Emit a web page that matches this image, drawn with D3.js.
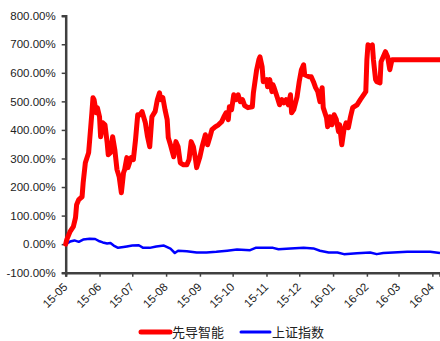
<!DOCTYPE html>
<html>
<head>
<meta charset="utf-8">
<script src="https://cdn.jsdelivr.net/npm/d3@7"></script>
<style>
  body { margin: 0; background: #fff; }
  svg { display: block; }
</style>
</head>
<body>
<div id="chart"></div>
<script>
// 先导智能 vs 上证指数, cumulative return (%)
var xianDates = ["2015-05-01","2015-05-02","2015-05-05","2015-05-08","2015-05-10","2015-05-11","2015-05-13","2015-05-16","2015-05-17","2015-05-19",
  "2015-05-22","2015-05-23","2015-05-25","2015-05-26","2015-05-27","2015-05-29","2015-05-30","2015-06-01","2015-06-02","2015-06-04",
  "2015-06-06","2015-06-08","2015-06-09","2015-06-11","2015-06-13","2015-06-15","2015-06-17","2015-06-19","2015-06-21","2015-06-23",
  "2015-06-24","2015-06-26","2015-06-27","2015-06-30","2015-07-02","2015-07-04","2015-07-06","2015-07-08","2015-07-10","2015-07-13",
  "2015-07-15","2015-07-17","2015-07-19","2015-07-22","2015-07-24","2015-07-26","2015-07-27","2015-07-29","2015-07-31","2015-08-02",
  "2015-08-03","2015-08-05","2015-08-08","2015-08-10","2015-08-12","2015-08-14","2015-08-17","2015-08-20","2015-08-22","2015-08-24",
  "2015-08-26","2015-08-28","2015-08-29","2015-09-01","2015-09-03","2015-09-06","2015-09-08","2015-09-10","2015-09-12","2015-09-15",
  "2015-09-18","2015-09-21","2015-09-23","2015-09-25","2015-09-27","2015-09-28","2015-09-30","2015-10-02","2015-10-04","2015-10-06",
  "2015-10-08","2015-10-10","2015-10-12","2015-10-15","2015-10-19","2015-10-20","2015-10-23","2015-10-25","2015-10-26","2015-10-28",
  "2015-10-29","2015-11-01","2015-11-02","2015-11-04","2015-11-06","2015-11-07","2015-11-08","2015-11-11","2015-11-13","2015-11-15",
  "2015-11-17","2015-11-19","2015-11-21","2015-11-23","2015-11-24","2015-11-26","2015-11-29","2015-12-01","2015-12-03","2015-12-05",
  "2015-12-06","2015-12-10","2015-12-12","2015-12-14","2015-12-16","2015-12-18","2015-12-20","2015-12-22","2015-12-23","2015-12-26",
  "2015-12-27","2015-12-29","2015-12-31","2016-01-02","2016-01-04","2016-01-06","2016-01-07","2016-01-09","2016-01-11","2016-01-13",
  "2016-01-15","2016-01-17","2016-01-19","2016-01-23","2016-01-26","2016-01-29","2016-01-31","2016-02-01","2016-02-02","2016-02-03",
  "2016-02-06","2016-02-07","2016-02-09","2016-02-10","2016-02-13","2016-02-14","2016-02-16","2016-02-18","2016-02-20","2016-02-22",
  "2016-02-24","2016-04-08"];
var xianValues = [0,16,44,61,93,138,156,166,215,285,
  320,366,460,513,506,460,478,446,376,425,
  418,355,313,320,376,331,261,236,180,250,
  261,303,268,303,296,366,453,453,464,425,
  376,341,446,465,506,530,506,513,471,436,
  373,348,306,359,341,285,278,278,296,359,
  341,296,268,306,341,383,348,373,401,411,
  418,429,446,460,436,481,471,523,506,523,
  499,506,485,478,481,530,611,646,656,621,
  569,576,551,576,534,558,548,513,488,506,
  495,506,488,523,460,471,516,569,611,628,
  593,586,586,569,548,534,499,548,478,443,
  411,446,418,453,436,394,418,348,401,425,
  408,446,478,488,506,523,534,646,698,688,
  698,646,576,569,565,639,656,674,656,611,
  646,646];

var shDates = ["2015-05-01","2015-05-05","2015-05-09","2015-05-13","2015-05-17","2015-05-23","2015-05-28","2015-06-01","2015-06-04","2015-06-08",
  "2015-06-11","2015-06-14","2015-06-18","2015-06-23","2015-06-26","2015-07-01","2015-07-07","2015-07-11","2015-07-17","2015-07-23",
  "2015-07-30","2015-08-05","2015-08-09","2015-08-12","2015-08-20","2015-08-29","2015-09-07","2015-09-16","2015-09-26","2015-10-05",
  "2015-10-17","2015-10-22","2015-11-07","2015-11-12","2015-11-23","2015-12-05","2015-12-14","2015-12-20","2015-12-28","2016-01-05",
  "2016-01-11","2016-01-23","2016-02-04","2016-02-10","2016-02-16","2016-02-25","2016-03-09","2016-03-21","2016-03-30","2016-04-08"];
var shValues = [0,9,13,8,16,19,18,10,6,2,
  4,-5,-13,-10,-8,-5,-4,-13,-13,-8,
  -5,-16,-31,-23,-25,-29,-29,-27,-23,-19,
  -21,-13,-13,-18,-15,-13,-15,-23,-29,-29,
  -35,-32,-29,-35,-31,-29,-27,-27,-27,-31];

var yTicks = [-100,0,100,200,300,400,500,600,700,800];
var xTicks = ["2015-05-01","2015-06-01","2015-07-01","2015-08-01","2015-09-01","2015-10-01",
  "2015-11-01","2015-12-01","2016-01-01","2016-02-01","2016-03-01","2016-04-01"];
var seriesNames = ["先导智能","上证指数"];
var seriesColors = ["#ff0000","#0000ff"];

var W = 440, H = 341;
var margin = {top: 15.7, right: 0, bottom: 68.3, left: 65.7};
var parse = d3.timeParse("%Y-%m-%d");

var svg = d3.select("#chart").append("svg")
    .attr("width", W)
    .attr("height", H);

var x = d3.scaleTime()
    .domain([parse("2015-05-01"), parse("2016-04-08")])
    .range([margin.left, W - margin.right]);

var y = d3.scaleLinear()
    .domain([-100, 800])
    .range([H - margin.bottom, margin.top]);

var font = "'Liberation Sans', Arial, sans-serif";

// y axis
var yAxis = svg.append("g")
    .attr("transform", "translate(" + margin.left + ",0)")
    .call(d3.axisLeft(y).tickValues(yTicks).tickSize(4).tickPadding(6)
      .tickFormat(function(d) { return d.toFixed(2) + "%"; }));
yAxis.select(".domain").attr("stroke", "#404040").attr("stroke-width", 2.5);
yAxis.selectAll(".tick line").attr("stroke", "#404040").attr("stroke-width", 1.5);
yAxis.selectAll("text").attr("font-family", font).attr("font-size", "11.5px").attr("fill", "#222");

// x axis
var xAxis = svg.append("g")
    .attr("transform", "translate(0," + (H - margin.bottom) + ")")
    .call(d3.axisBottom(x).tickValues(xTicks.map(parse)).tickSize(4)
      .tickFormat(d3.timeFormat("%y-%m")));
xAxis.select(".domain").attr("stroke", "#404040").attr("stroke-width", 2.5);
xAxis.selectAll(".tick line").attr("stroke", "#404040").attr("stroke-width", 1.5);
xAxis.selectAll("text")
    .attr("font-family", font)
    .attr("font-size", "11.5px")
    .attr("fill", "#222")
    .attr("text-anchor", "end")
    .attr("dy", null)
    .attr("y", 0)
    .attr("transform", "translate(2,15) rotate(-45)");

var line = d3.line()
    .x(function(d) { return x(d[0]); })
    .y(function(d) { return y(d[1]); });

var shData = shDates.map(function(d, i) { return [parse(d), shValues[i]]; });
var xianData = xianDates.map(function(d, i) { return [parse(d), xianValues[i]]; });

svg.append("path")
    .datum(shData)
    .attr("fill", "none")
    .attr("stroke", seriesColors[1])
    .attr("stroke-width", 2.5)
    .attr("stroke-linejoin", "round")
    .attr("d", line);

svg.append("path")
    .datum(xianData)
    .attr("fill", "none")
    .attr("stroke", seriesColors[0])
    .attr("stroke-width", 5)
    .attr("stroke-linejoin", "round")
    .attr("stroke-linecap", "round")
    .attr("d", line);

// legend
var legendX = [141, 241];
seriesNames.forEach(function(name, i) {
  var g = svg.append("g").attr("transform", "translate(" + legendX[i] + ",332)");
  g.append("line")
      .attr("x1", 0).attr("x2", 29)
      .attr("stroke", seriesColors[i])
      .attr("stroke-width", i === 0 ? 5 : 3)
      .attr("stroke-linecap", "round");
  g.append("text")
      .attr("x", 31)
      .attr("y", 4.5)
      .attr("font-family", "'Noto Sans CJK SC', sans-serif")
      .attr("font-size", "13px")
      .attr("fill", "#222")
      .text(name);
});
</script>
</body>
</html>
